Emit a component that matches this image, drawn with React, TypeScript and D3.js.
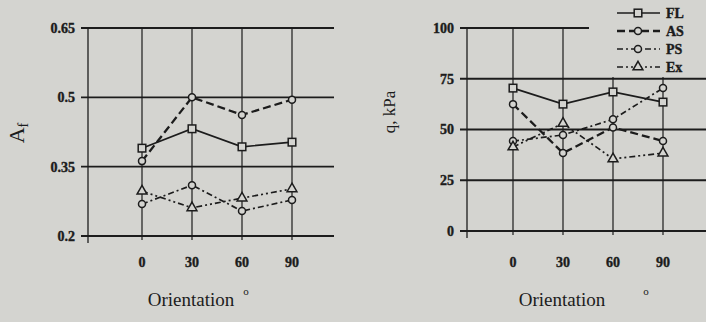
import * as d3 from "d3";

const orientations = [0, 30, 60, 90];
const seriesNames = ["FL", "AS", "PS", "Ex"];

// A_f values
const afFL = [0.39, 0.432, 0.393, 0.403];
const afAS = [0.362, 0.5, 0.462, 0.495];
const afPS = [0.269, 0.31, 0.254, 0.278];
const afEx = [0.297, 0.261, 0.282, 0.302];

// q, kPa values
const qFL = [70.4, 62.5, 68.5, 63.5];
const qAS = [62.5, 38.4, 51, 44.3];
const qPS = [44.3, 47.3, 55, 70.4];
const qEx = [41.4, 53, 35.5, 38.4];

const afTicks = [0.2, 0.35, 0.5, 0.65];
const afTickLabels = ["0.2", "0.35", "0.5", "0.65"];
const qTicks = [0, 25, 50, 75, 100];

const BG = "#d4d4d0";
const INK = "#1c1c1c";

const styles: Record<string, { dash: string; marker: string; width: number }> = {
  FL: { dash: "none", marker: "square", width: 1.7 },
  AS: { dash: "8,4", marker: "circle", width: 2.3 },
  PS: { dash: "6,3,2,3", marker: "circle", width: 1.7 },
  Ex: { dash: "6,3,2,3,2,3", marker: "triangle", width: 1.7 },
};

function Marker({ kind, x, y }: { kind: string; x: number; y: number }) {
  if (kind === "square")
    return <rect x={x - 3.8} y={y - 3.8} width={7.6} height={7.6} fill={BG} stroke={INK} strokeWidth={1.5} />;
  if (kind === "triangle")
    return (
      <path
        d={d3.symbol(d3.symbolTriangle, 42)() || ""}
        transform={`translate(${x},${y})`}
        fill={BG}
        stroke={INK}
        strokeWidth={1.5}
      />
    );
  return <circle cx={x} cy={y} r={3.5} fill={BG} stroke={INK} strokeWidth={1.5} />;
}

const boldText = {
  fontFamily: "Liberation Serif",
  fontWeight: "bold" as const,
  fontSize: 14,
  fill: INK,
  stroke: INK,
  strokeWidth: 0.4,
};

function Panel({
  series, yDomain, yRange, xRange, axisX, right, ticks, tickLabels, yLabel, labelX, labelY, degX,
}: {
  series: number[][]; yDomain: [number, number]; yRange: [number, number];
  xRange: [number, number]; axisX: number; right: number; ticks: number[];
  tickLabels: string[]; yLabel: any; labelX: number; labelY: number; degX: number;
}) {
  const x = d3.scaleLinear().domain([0, 90]).range(xRange);
  const y = d3.scaleLinear().domain(yDomain).range(yRange);
  const bottom = yRange[0];
  const top = yRange[1];
  const line = d3.line<number>().x((_, i) => x(orientations[i])).y((d) => y(d));
  return (
    <g>
      {ticks.map((t, i) => (
        <g key={t}>
          <line x1={axisX - 7} x2={right} y1={y(t)} y2={y(t)} stroke={INK} strokeWidth={1.9} />
          <text x={axisX - 13} y={y(t)} dy="0.35em" textAnchor="end" {...boldText}>
            {tickLabels[i]}
          </text>
        </g>
      ))}
      <line x1={axisX} x2={axisX} y1={top} y2={bottom + 7} stroke={INK} strokeWidth={1.3} />
      {orientations.map((o) => (
        <g key={o}>
          <line x1={x(o)} x2={x(o)} y1={top} y2={bottom + 4} stroke={INK} strokeWidth={1.2} />
          <text x={x(o)} y={262} dy="0.35em" textAnchor="middle" {...boldText}>
            {o}
          </text>
        </g>
      ))}
      {series.map((vals, si) => {
        const st = styles[seriesNames[si]];
        return (
          <g key={si}>
            <path d={line(vals) || ""} fill="none" stroke={INK} strokeWidth={st.width} strokeDasharray={st.dash} />
            {vals.map((v, i) => (
              <Marker key={i} kind={st.marker} x={x(orientations[i])} y={y(v)} />
            ))}
          </g>
        );
      })}
      <text x={x(30) - 1} y={306} textAnchor="middle" fontFamily="Liberation Serif" fontSize={19} fill={INK}>
        Orientation
      </text>
      <text x={degX} y={295} textAnchor="middle" fontFamily="Liberation Serif" fontSize={11} fill={INK}>
        o
      </text>
      <g transform={`translate(${labelX},${labelY}) rotate(-90)`}>{yLabel}</g>
    </g>
  );
}

export default function App() {
  return (
    <svg width={706} height={322} style={{ position: "absolute", left: 0, top: 0 }}>
      <rect width={706} height={322} fill={BG} />
      <Panel
        series={[afFL, afAS, afPS, afEx]}
        yDomain={[0.2, 0.65]}
        yRange={[236, 28]}
        xRange={[142, 292]}
        axisX={88}
        right={334}
        ticks={afTicks}
        tickLabels={afTickLabels}
        labelX={24}
        labelY={133}
        degX={246}
        yLabel={
          <text textAnchor="middle" fontFamily="Liberation Serif" fontSize={22} fill={INK}>
            A<tspan fontSize={14} dy={4}>f</tspan>
          </text>
        }
      />
      <Panel
        series={[qFL, qAS, qPS, qEx]}
        yDomain={[0, 100]}
        yRange={[231, 28]}
        xRange={[513, 663]}
        axisX={467}
        right={706}
        ticks={qTicks}
        tickLabels={qTicks.map(String)}
        labelX={395}
        labelY={112}
        degX={646}
        yLabel={
          <text textAnchor="middle" fontFamily="Liberation Serif" fontSize={17} fill={INK}>
            q, kPa
          </text>
        }
      />
      {/* legend area clears the grid behind it */}
      <rect x={589} y={0} width={117} height={77} fill={BG} />
      {seriesNames.map((n, i) => {
        const st = styles[n];
        const ly = 13 + i * 18;
        return (
          <g key={n}>
            <line x1={617} x2={660} y1={ly} y2={ly} stroke={INK} strokeWidth={st.width} strokeDasharray={st.dash} />
            <Marker kind={st.marker} x={638} y={ly} />
            <text x={666} y={ly} dy="0.35em" {...boldText}>
              {n}
            </text>
          </g>
        );
      })}
    </svg>
  );
}
